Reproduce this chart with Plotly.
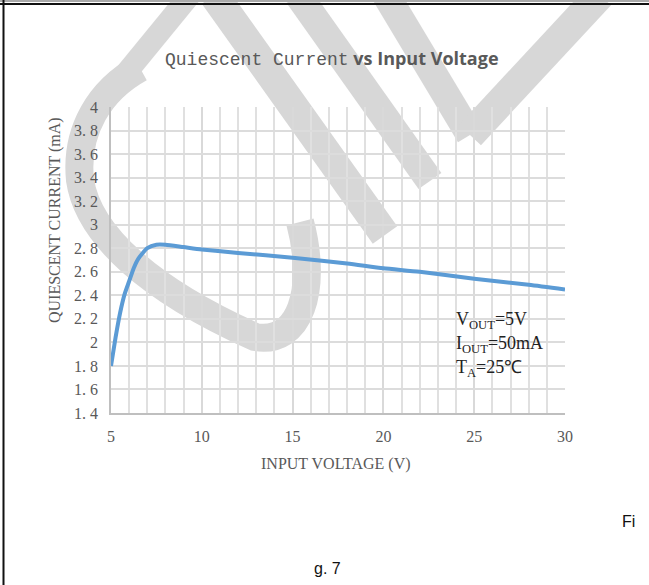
import plotly.graph_objects as go

# Quiescent current vs input voltage (VOUT=5V, IOUT=50mA, TA=25C)
vin_v = [5, 5.25, 5.5, 5.75, 6, 6.25, 6.5, 7, 7.5, 8, 9, 10, 12, 15, 18, 20, 22, 25, 28, 30]
iq_ma = [1.80, 2.04, 2.25, 2.41, 2.52, 2.63, 2.71, 2.80, 2.83, 2.83, 2.81, 2.79, 2.76, 2.72,
         2.67, 2.63, 2.60, 2.54, 2.49, 2.45]

y_ticks = [1.4, 1.6, 1.8, 2.0, 2.2, 2.4, 2.6, 2.8, 3.0, 3.2, 3.4, 3.6, 3.8, 4.0]
y_tick_text = ["1. 4", "1. 6", "1. 8", "2", "2. 2", "2. 4", "2. 6", "2. 8", "3",
               "3. 2", "3. 4", "3. 6", "3. 8", "4"]
x_ticks = [5, 10, 15, 20, 25, 30]

W, H = 649, 585
L, R, T, B = 111, 84, 107, 172
PW, PH = W - L - R, H - T - B


def px(x):
    return (x - L) / PW


def py(y):
    return (H - B - y) / PH


def path(cmds):
    # cmds: list of (letter, [(x, y), ...]) in page pixels -> paper coords
    out = []
    for c, pts in cmds:
        out.append(c + " " + " ".join(f"{px(a):.4f},{py(b):.4f}" for a, b in pts))
    return " ".join(out)


fig = go.Figure()
fig.add_trace(go.Scatter(
    x=vin_v, y=iq_ma, mode="lines",
    line=dict(color="#5b9bd5", width=4, shape="spline", smoothing=0.6),
    hoverinfo="skip", showlegend=False,
))

shapes = []
mark = "#d7d7d7"

# background "CHL" watermark, drawn as thick strokes
strokes = [
    # C
    (path([("M", [(140, 68)]),
           ("C", [(100, 90), (75, 130), (80, 180)]),
           ("C", [(88, 235), (150, 290), (255, 337)]),
           ("C", [(300, 345), (318, 290), (300, 222)])]), 28),
    (path([("M", [(190, -5)]), ("L", [(100, 105)])]), 22),
    # H
    (path([("M", [(214, -5)]), ("L", [(385, 235)])]), 30),
    (path([("M", [(298, -5)]), ("L", [(430, 181)])]), 28),
    # L
    (path([("M", [(386, -5)]), ("L", [(470, 135)])]), 28),
    (path([("M", [(600, -5)]), ("L", [(470, 135)])]), 30),
]
for d, w in strokes:
    shapes.append(dict(type="path", xref="paper", yref="paper", path=d,
                       line=dict(color=mark, width=w), fillcolor="rgba(0,0,0,0)",
                       layer="below"))

# page frame lines
shapes.append(dict(type="line", xref="paper", yref="paper",
                   x0=px(0), x1=px(W), y0=py(4), y1=py(4),
                   line=dict(color="#111111", width=2), layer="above"))
shapes.append(dict(type="line", xref="paper", yref="paper",
                   x0=px(0), x1=px(W), y0=py(1), y1=py(1),
                   line=dict(color="#aaaaaa", width=2), layer="above"))
shapes.append(dict(type="line", xref="paper", yref="paper",
                   x0=px(3.5), x1=px(3.5), y0=py(0), y1=py(H),
                   line=dict(color="#111111", width=2), layer="above"))

serif = "Liberation Serif"
grey = "#595959"


def label(x, y, text, font, **kw):
    d = dict(x=px(x), y=py(y), xref="paper", yref="paper", showarrow=False,
             xanchor="center", yanchor="middle", text=text, font=font)
    d.update(kw)
    return d


annotations = [
    label(163, 58,
          "<span style='font-family:Liberation Mono'>Quiescent Current</span> "
          "<b>vs Input Voltage</b>",
          dict(family="Open Sans", size=18, color=grey), xanchor="left"),
    label(55, 220, "QUIESCENT CURRENT (mA)", dict(family=serif, size=16, color=grey),
          textangle=-90),
    label(336, 464, "INPUT VOLTAGE (V)", dict(family=serif, size=16, color=grey)),
    label(454, 320, "V<sub>OUT</sub>=5V", dict(family=serif, size=18, color="#222222"),
          xanchor="left"),
    label(454, 344, "I<sub>OUT</sub>=50mA", dict(family=serif, size=18, color="#222222"),
          xanchor="left"),
    label(454, 368, "T<sub>A</sub>=25℃", dict(family=serif, size=18, color="#222222"),
          xanchor="left"),
    label(637, 521, "Fi", dict(family="Liberation Sans", size=16, color="#111111"),
          xanchor="right"),
    label(327, 568, "g. 7", dict(family="Liberation Sans", size=16, color="#111111")),
]

fig.update_layout(
    width=W, height=H,
    margin=dict(l=L, r=R, t=T, b=B, pad=0),
    paper_bgcolor="white", plot_bgcolor="rgba(0,0,0,0)",
    shapes=shapes, annotations=annotations,
    xaxis=dict(range=[5, 30], tickvals=x_ticks, showgrid=True, gridcolor="#d9d9d9",
               gridwidth=1.5, zeroline=False, showline=True, linecolor="#bfbfbf",
               linewidth=1.5, ticks="", ticklabelstandoff=8,
               tickfont=dict(family=serif, size=16, color=grey),
               minor=dict(dtick=1, showgrid=True, gridcolor="#e0e0e0", gridwidth=1.5),
               fixedrange=True),
    yaxis=dict(range=[1.4, 4.0], tickvals=y_ticks, ticktext=y_tick_text, showgrid=True,
               gridcolor="#dcdcdc", gridwidth=1.5, zeroline=False, showline=True,
               linecolor="#bfbfbf", linewidth=1.5, ticks="", ticklabelstandoff=8,
               tickfont=dict(family=serif, size=16, color=grey), fixedrange=True),
)

fig.write_html("out.html")
